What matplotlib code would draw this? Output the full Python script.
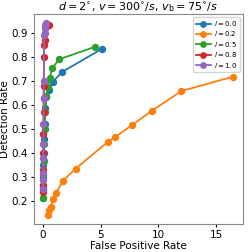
import matplotlib
matplotlib.use("Agg")
import matplotlib.pyplot as plt

labels = ["$l = 0.0$", "$l = 0.2$", "$l = 0.5$", "$l = 0.8$", "$l = 1.0$"]

fpr_l00 = [5.13, 1.67, 0.85, 0.48, 0.28, 0.18, 0.12, 0.08, 0.05, 0.03, 0.02, 0.01, 0.0]
det_l00 = [0.835, 0.739, 0.698, 0.663, 0.633, 0.59, 0.52, 0.46, 0.40, 0.35, 0.30, 0.25, 0.215]

fpr_l02 = [16.5, 12.0, 9.47, 7.72, 6.24, 5.64, 2.81, 1.73, 1.13, 0.85, 0.68, 0.54, 0.40]
det_l02 = [0.719, 0.659, 0.578, 0.518, 0.467, 0.449, 0.336, 0.286, 0.237, 0.210, 0.179, 0.166, 0.145]

fpr_l05 = [4.51, 1.39, 0.79, 0.57, 0.40, 0.28, 0.18, 0.12, 0.07, 0.04, 0.02, 0.01, 0.0]
det_l05 = [0.843, 0.791, 0.754, 0.712, 0.675, 0.64, 0.57, 0.50, 0.44, 0.37, 0.31, 0.26, 0.215]

fpr_l08 = [0.5, 0.25, 0.12, 0.10, 0.08, 0.06, 0.05, 0.04, 0.03, 0.02, 0.01, 0.01, 0.0]
det_l08 = [0.933, 0.925, 0.87, 0.85, 0.80, 0.68, 0.63, 0.57, 0.48, 0.40, 0.33, 0.27, 0.24]

fpr_l10 = [0.25, 0.20, 0.15, 0.12, 0.10, 0.05, 0.04, 0.03, 0.02, 0.02, 0.01, 0.01, 0.0]
det_l10 = [0.94, 0.935, 0.92, 0.90, 0.89, 0.70, 0.63, 0.52, 0.44, 0.38, 0.32, 0.29, 0.25]

series = [(fpr_l00, det_l00), (fpr_l02, det_l02), (fpr_l05, det_l05),
          (fpr_l08, det_l08), (fpr_l10, det_l10)]

plt.rcParams['font.size'] = 7.5
fig, ax = plt.subplots(figsize=(2.49, 2.52), dpi=100)
for (x, y), lab in zip(series, labels):
    ax.plot(x, y, marker='o', markersize=4.3, linewidth=1.3, label=lab)

ax.set_title(r"$d = 2^{\circ}$, $v = 300^{\circ}/s$, $v_\mathrm{b} = 75^{\circ}/s$",
             fontsize=8, pad=2)
ax.set_xlabel("False Positive Rate", labelpad=1)
ax.set_ylabel("Detection Rate", labelpad=1)
ax.set_yticks([0.2, 0.3, 0.4, 0.5, 0.6, 0.7, 0.8, 0.9])
ax.set_xticks([0, 5, 10, 15])
ax.tick_params(length=2.5, pad=1.5)
for s in ax.spines.values():
    s.set_color('#888888')
ax.legend(loc='upper right', fontsize=5.0, handlelength=2.2, borderpad=0.35,
          labelspacing=0.2, handletextpad=0.5, borderaxespad=0.4, markerscale=0.9)
fig.subplots_adjust(left=0.135, right=0.975, bottom=0.11, top=0.945)
fig.savefig("out.png")
